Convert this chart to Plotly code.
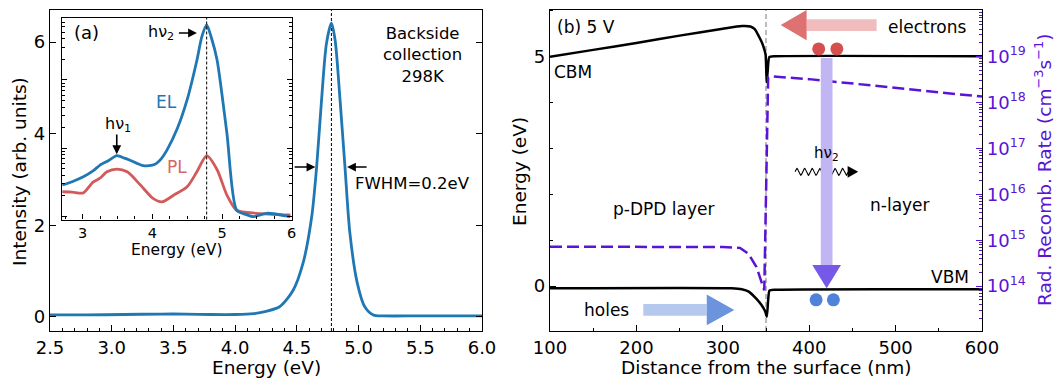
import numpy as np
import plotly.graph_objects as go

# ---------------- data ----------------
# (a) main EL spectrum, backside collection, 298 K
main_energy = [2.5, 2.8, 3.1, 3.4, 3.6, 3.8, 4.0, 4.15, 4.25, 4.36, 4.47, 4.55, 4.62,
               4.66, 4.70, 4.74, 4.78, 4.81, 4.85, 4.89, 4.93, 4.99, 5.05, 5.12, 5.2, 5.5, 6.0]
main_intensity = [0.04, 0.04, 0.05, 0.06, 0.06, 0.05, 0.05, 0.07, 0.12, 0.22, 0.58, 1.17, 2.18,
                  3.27, 4.73, 5.97, 6.41, 6.04, 4.73, 3.27, 1.82, 0.73, 0.22, 0.04, 0.02, 0.02, 0.02]

# inset (log scale, arb. units)
inset_el_energy = [2.71, 2.85, 3.01, 3.15, 3.25, 3.38, 3.49, 3.60, 3.68, 3.87, 4.00, 4.06, 4.13,
                   4.21, 4.36, 4.50, 4.64, 4.71, 4.78, 4.85, 4.93, 5.07, 5.21, 5.35, 5.45, 5.64, 5.98]
inset_el = [2.86, 3.2, 3.78, 4.6, 5.62, 6.6, 7.71, 7.1, 6.61, 5.50, 5.6, 5.96, 7.0,
            9.33, 19.5, 51.3, 195, 430, 646, 410, 195, 16.6, 1.22, 1.05, 0.98, 1.10, 0.98]
inset_pl_energy = [2.71, 2.85, 3.01, 3.15, 3.25, 3.35, 3.49, 3.64, 3.83, 4.01, 4.14, 4.31,
                   4.50, 4.64, 4.78, 4.93, 5.07, 5.21, 5.50, 5.98]
inset_pl = [2.28, 2.25, 2.19, 3.16, 3.6, 4.47, 4.90, 4.47, 2.86, 1.82, 1.62, 2.04,
            2.69, 4.47, 7.71, 4.79, 2.04, 1.22, 1.10, 1.04]

# (b) band diagram at 5 V
cbm_nm = [100, 150, 200, 250, 300, 322, 332, 337, 341, 345, 347, 349.5, 350.8, 352, 353.8, 360, 600]
cbm_ev = [5.00, 5.15, 5.30, 5.46, 5.61, 5.67, 5.66, 5.60, 5.47, 5.32, 5.22, 5.05, 4.45, 4.70, 4.99, 5.01, 5.01]
vbm_nm = [100, 310, 322, 330, 339, 345, 349, 351, 352.5, 354, 360, 600]
vbm_ev = [-0.05, -0.05, -0.07, -0.12, -0.28, -0.42, -0.55, -0.67, -0.30, -0.10, -0.08, -0.07]
rate_nm = [100, 300, 320, 329.5, 339, 345, 348, 352.5, 358, 400, 435, 500, 584, 600]
rate_val = [7.2e14, 7.1e14, 6.8e14, 5.1e14, 2.6e14, 1.15e14, 8.1e13,
            3.55e18, 3.7e18, 3.25e18, 2.8e18, 2.1e18, 1.45e18, 1.35e18]

rate_tickvals = [1e14, 1e15, 1e16, 1e17, 1e18, 1e19]
rate_ticktext = ["10<sup>14</sup>", "10<sup>15</sup>", "10<sup>16</sup>",
                 "10<sup>17</sup>", "10<sup>18</sup>", "10<sup>19</sup>"]

peak_energy = 4.78
interface_nm = 350
electron_dots_nm = [411, 432]
hole_dots_nm = [408, 428]

# ---------------- styling ----------------
W, H = 1056, 381
FONT = "DejaVu Sans"
BLUE = "#1f77b4"
RED = "#d25a5a"
PURPLE = "#5a14d6"

def px(x):
    return x / W

def py(y):
    return 1 - y / H

fig = go.Figure()

# main EL
fig.add_trace(go.Scatter(x=main_energy, y=main_intensity, mode="lines",
                         line=dict(color=BLUE, width=2.8, shape="spline", smoothing=0.8),
                         xaxis="x", yaxis="y", showlegend=False, hoverinfo="skip"))
# inset
fig.add_trace(go.Scatter(x=inset_pl_energy, y=inset_pl, mode="lines",
                         line=dict(color=RED, width=2.8, shape="spline", smoothing=0.7),
                         xaxis="x2", yaxis="y2", showlegend=False))
fig.add_trace(go.Scatter(x=inset_el_energy, y=inset_el, mode="lines",
                         line=dict(color=BLUE, width=2.8, shape="spline", smoothing=0.7),
                         xaxis="x2", yaxis="y2", showlegend=False))

# band diagram
fig.add_trace(go.Scatter(x=rate_nm, y=rate_val, mode="lines",
                         line=dict(color=PURPLE, width=2.5, dash="12px,5px"),
                         xaxis="x3", yaxis="y4", showlegend=False))
fig.add_trace(go.Scatter(x=cbm_nm, y=cbm_ev, mode="lines",
                         line=dict(color="black", width=2.5, shape="spline", smoothing=0.5),
                         xaxis="x3", yaxis="y3", showlegend=False))
fig.add_trace(go.Scatter(x=vbm_nm, y=vbm_ev, mode="lines",
                         line=dict(color="black", width=2.5, shape="spline", smoothing=0.5),
                         xaxis="x3", yaxis="y3", showlegend=False))

# wavy photon
wx = np.linspace(383.6, 445.0, 200)
wy = 2.49 + 0.075 * np.sin(2 * np.pi * (wx - 383.6) / 8.8)
fig.add_trace(go.Scatter(x=wx, y=wy, mode="lines", line=dict(color="black", width=1.1),
                         xaxis="x3", yaxis="y3", showlegend=False))

# electron / hole dots
fig.add_trace(go.Scatter(x=electron_dots_nm, y=[5.17] * len(electron_dots_nm), mode="markers",
                         marker=dict(color="#d64f4f", size=13), xaxis="x3", yaxis="y3",
                         showlegend=False))
fig.add_trace(go.Scatter(x=hole_dots_nm, y=[-0.30] * len(hole_dots_nm), mode="markers",
                         marker=dict(color="#4f82d8", size=13), xaxis="x3", yaxis="y3",
                         showlegend=False))

shapes = []
# vertical reference lines
shapes.append(dict(type="line", xref="x", yref="y domain", x0=peak_energy, x1=peak_energy,
                   y0=0, y1=1, line=dict(color="black", width=1, dash="3px,2px"), layer="below"))
shapes.append(dict(type="line", xref="x2", yref="y2 domain", x0=peak_energy, x1=peak_energy,
                   y0=0, y1=1, line=dict(color="black", width=1, dash="3px,2px")))
shapes.append(dict(type="line", xref="x3", yref="y3 domain", x0=interface_nm, x1=interface_nm,
                   y0=0, y1=1, line=dict(color="#909090", width=1.2, dash="5px,3px"), layer="below"))

# block arrows (x3/y3 data coords)
def block_arrow(x_start, x_base, x_tip, yc, half_shaft, half_head, c_shaft, c_head):
    shapes.append(dict(type="rect", xref="x3", yref="y3", x0=x_start, x1=x_base,
                       y0=yc - half_shaft, y1=yc + half_shaft, fillcolor=c_shaft,
                       line=dict(width=0), layer="above"))
    shapes.append(dict(type="path", xref="x3", yref="y3",
                       path=f"M {x_base},{yc - half_head} L {x_tip},{yc} L {x_base},{yc + half_head} Z",
                       fillcolor=c_head, line=dict(width=0), layer="above"))

block_arrow(208, 281.4, 313.3, -0.52, 0.127, 0.335, "#b5c9ee", "#6b94dc")   # holes
block_arrow(478, 397, 367, 5.69, 0.127, 0.33, "#f0bcbd", "#de7272")       # electrons

# vertical purple recombination arrow
shapes.append(dict(type="rect", xref="x3", yref="y3", x0=413.4, x1=427.0, y0=0.46, y1=4.97,
                   fillcolor="#c1b5f4", line=dict(width=0), layer="above"))
shapes.append(dict(type="path", xref="x3", yref="y3",
                   path="M 403.6,0.46 L 420.2,-0.05 L 436.8,0.46 Z",
                   fillcolor="#7659e8", line=dict(width=0), layer="above"))
# photon arrowhead
shapes.append(dict(type="path", xref="x3", yref="y3",
                   path="M 444.5,2.62 L 456.7,2.49 L 444.5,2.36 Z",
                   fillcolor="black", line=dict(width=0), layer="above"))

ann = []
def text(x, y, s, xref, yref, size=17, color="black", xanchor="center", yanchor="middle",
         angle=0):
    ann.append(dict(x=x, y=y, text=s, xref=xref, yref=yref, showarrow=False,
                    font=dict(family=FONT, size=size, color=color), textangle=angle,
                    xanchor=xanchor, yanchor=yanchor))

def arrow(x, y, ax, ay, xref, yref):
    ann.append(dict(x=x, y=y, ax=ax, ay=ay, xref=xref, yref=yref, axref=xref, ayref=yref,
                    text="", showarrow=True, arrowhead=2, arrowsize=1.1, arrowwidth=1.6,
                    arrowcolor="black"))

# panel (a)
text(5.52, 5.71, "Backside<br>collection<br>298K", "x", "y", size=16.5)
text(5.44, 2.92, "FWHM=0.2eV", "x", "y", size=16.5)
arrow(4.65, 3.27, 4.47, 3.27, "x", "y")
arrow(4.907, 3.27, 5.077, 3.27, "x", "y")
text(3.06, 2.69, "(a)", "x2", "y2", size=18)
text(4.34, 2.69, "hν<sub>2</sub>", "x2", "y2", size=16, xanchor="right")
arrow(4.64, 2.69, 4.36, 2.69, "x2", "y2")
text(3.51, 1.34, "hν<sub>1</sub>", "x2", "y2", size=16)
arrow(3.49, 0.91, 3.49, 1.22, "x2", "y2")
text(4.21, 1.68, "EL", "x2", "y2", size=17, color=BLUE)
text(4.35, 0.725, "PL", "x2", "y2", size=17, color="#d46767")

# panel (b)
text(105.5, 5.65, "(b) 5 V", "x3", "y3", size=17, xanchor="left")
text(102, 4.67, "CBM", "x3", "y3", size=17, xanchor="left")
text(231, 1.69, "p-DPD layer", "x3", "y3", size=17)
text(165.6, -0.52, "holes", "x3", "y3", size=17)
text(536, 5.65, "electrons", "x3", "y3", size=17)
text(420.2, 2.90, "hν<sub>2</sub>", "x3", "y3", size=15)
text(505, 1.77, "n-layer", "x3", "y3", size=17)
text(563, 0.20, "VBM", "x3", "y3", size=17)

# axis titles
text(px(266), py(367), "Energy (eV)", "paper", "paper", size=18.5)
text(px(766), py(367), "Distance from the surface (nm)", "paper", "paper", size=18.5)
text(px(176), py(249.5), "Energy (eV)", "paper", "paper", size=15.5)
text(px(20), py(172), "Intensity (arb. units)", "paper", "paper", size=18.5, angle=-90)
text(px(520), py(172), "Energy (eV)", "paper", "paper", size=18.5, angle=-90)
text(px(1043), py(170), "Rad. Recomb. Rate (cm<sup>−3</sup>s<sup>−1</sup>)", "paper", "paper",
     size=18.5, color=PURPLE, angle=-90)

tickfont = dict(family=FONT, size=18, color="black")

def ax(**kw):
    base = dict(showgrid=False, zeroline=False, showline=True, linecolor="black", linewidth=1.3,
                ticks="inside", tickcolor="black", tickwidth=1.2, ticklen=6, tickfont=tickfont,
                automargin=False)
    base.update(kw)
    return base

def log_minor(d0, d1):
    return [float(k) * 10.0 ** d for d in range(d0, d1) for k in range(2, 10)]

ydom = [py(331), py(9.5)]
fig.update_layout(
    width=W, height=H, autosize=False,
    margin=dict(l=0, r=0, t=0, b=0, pad=0),
    paper_bgcolor="white", plot_bgcolor="white",
    showlegend=False,
    shapes=shapes, annotations=ann,
    xaxis=ax(domain=[px(50), px(482)], range=[2.5, 6.0], anchor="y",
             dtick=0.5, tick0=2.5, tickformat=".1f", mirror=True,
             minor=dict(ticks="inside", dtick=0.1, ticklen=3, tickcolor="black")),
    yaxis=ax(domain=ydom, range=[-0.31, 6.71], anchor="x",
             tickvals=[0, 2, 4, 6], mirror="ticks"),
    xaxis2=ax(tickfont=dict(family=FONT, size=14.5, color="black"),
              domain=[px(61.7), px(291.7)], range=[2.7, 6.0], anchor="y2",
              dtick=1, mirror=True, ticklen=5,
              minor=dict(ticks="inside", dtick=0.25, ticklen=3, tickcolor="black")),
    yaxis2=ax(domain=[py(219.5), py(18)], type="log", range=[-0.05, 2.91],
              anchor="x2", tickvals=[1, 10, 100], showticklabels=False, mirror="ticks",
              ticklen=5,
              minor=dict(ticks="inside", ticklen=3, tickcolor="black",
                         tickvals=log_minor(-1, 3))),
    xaxis3=ax(domain=[px(550), px(982)], range=[100, 600], anchor="y3",
              dtick=100, mirror=True,
              minor=dict(ticks="inside", dtick=50, ticklen=3, tickcolor="black")),
    yaxis3=ax(domain=ydom, range=[-0.98, 6.03], anchor="x3",
              tickvals=[0, 5], mirror=True,
              minor=dict(ticks="inside", dtick=1, ticklen=3, tickcolor="black")),
    yaxis4=ax(overlaying="y3", anchor="x3", side="right", type="log", range=[13.02, 20.03],
              tickcolor=PURPLE, tickvals=rate_tickvals, ticktext=rate_ticktext,
              tickfont=dict(family=FONT, size=18, color=PURPLE),
              minor=dict(ticks="inside", ticklen=3, tickcolor=PURPLE,
                         tickvals=log_minor(13, 20))),
)

fig.write_html("out.html", config={"displayModeBar": False},
               post_script="document.body.style.margin='0px';document.body.style.overflow='hidden';")
